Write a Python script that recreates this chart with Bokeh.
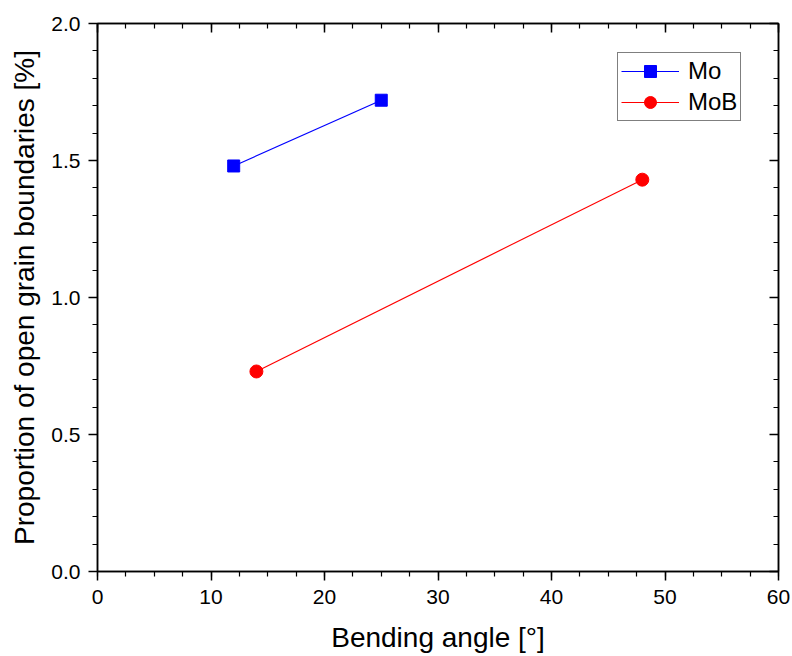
from bokeh.plotting import figure
from bokeh.models import LinearAxis, Range1d, FixedTicker, Legend, LegendItem, NumeralTickFormatter
from bokeh.embed import file_html
from bokeh.resources import INLINE

# Bending angle [°] vs. proportion of open grain boundaries [%]
mo_angle = [12, 25]
mo_open = [1.48, 1.72]
mob_angle = [14, 48]
mob_open = [0.73, 1.43]

x_ticks = [0, 10, 20, 30, 40, 50, 60]
y_ticks = [0.0, 0.5, 1.0, 1.5, 2.0]

FONT = "Liberation Sans"

p = figure(width=792, height=656, output_backend="svg", toolbar_location=None,
           x_range=Range1d(0, 60), y_range=Range1d(0, 2.0),
           min_border_left=97, min_border_right=14, min_border_top=23, min_border_bottom=85,
           x_axis_label="Bending angle [°]",
           y_axis_label="Proportion of open grain boundaries [%]")

p.xgrid.visible = False
p.ygrid.visible = False
p.outline_line_color = "black"
p.outline_line_width = 1.5
p.background_fill_color = "white"
p.border_fill_color = "white"

x_minor = [i * 2.5 for i in range(25)]
y_minor = [round(i * 0.1, 1) for i in range(21)]

def style_axis(ax, ticks, minor, show_labels, inward):
    ax.ticker = FixedTicker(ticks=ticks, minor_ticks=minor)
    ax.axis_line_color = "black"
    ax.axis_line_width = 1.5
    ax.major_tick_line_color = "black"
    ax.minor_tick_line_color = "black"
    ax.major_tick_line_width = 1.5
    ax.minor_tick_line_width = 1.2
    if inward:
        ax.major_tick_in = 9
        ax.major_tick_out = 0
        ax.minor_tick_in = 5
        ax.minor_tick_out = 0
    else:
        ax.major_tick_in = 0
        ax.major_tick_out = 9
        ax.minor_tick_in = 0
        ax.minor_tick_out = 5
    ax.major_label_text_font = FONT
    ax.major_label_text_font_size = "21px" if show_labels else "0px"
    ax.major_label_text_color = "black" if show_labels else None
    ax.axis_label_text_font = FONT
    ax.axis_label_text_font_size = "28px"
    ax.axis_label_text_font_style = "normal"
    ax.axis_label_text_color = "black"

style_axis(p.xaxis[0], x_ticks, x_minor, True, False)
style_axis(p.yaxis[0], y_ticks, y_minor, True, False)
p.xaxis[0].major_label_standoff = 9
p.yaxis[0].major_label_standoff = 8
p.xaxis[0].axis_label_standoff = 15
p.yaxis[0].axis_label_standoff = 8
p.yaxis[0].formatter = NumeralTickFormatter(format="0.0")

top = LinearAxis()
style_axis(top, x_ticks, x_minor, False, True)
top.major_label_standoff = 0
p.add_layout(top, "above")

right = LinearAxis()
style_axis(right, y_ticks, y_minor, False, True)
right.major_label_standoff = 0
p.add_layout(right, "right")

mo_line = p.line(mo_angle, mo_open, line_color="#0000ff", line_width=1.2)
mo_pts = p.scatter(mo_angle, mo_open, marker="square", size=12,
                   fill_color="#0000ff", line_color="#0000ff")
mob_line = p.line(mob_angle, mob_open, line_color="#ff0000", line_width=1.2)
mob_pts = p.scatter(mob_angle, mob_open, marker="circle", size=13,
                    fill_color="#ff0000", line_color="#ff0000")

legend = Legend(items=[
    LegendItem(label="Mo", renderers=[mo_line, mo_pts]),
    LegendItem(label="MoB", renderers=[mob_line, mob_pts]),
], location=(520, 450))
legend.label_text_font = FONT
legend.label_text_font_size = "24px"
legend.label_text_color = "black"
legend.glyph_width = 58
legend.glyph_height = 30
legend.label_height = 30
legend.label_standoff = 9
legend.spacing = 1
legend.padding = 3
legend.margin = 0
legend.border_line_color = "black"
legend.border_line_width = 1
legend.background_fill_alpha = 1.0
p.add_layout(legend, "center")

open("out.html", "w").write(file_html(p, INLINE))
